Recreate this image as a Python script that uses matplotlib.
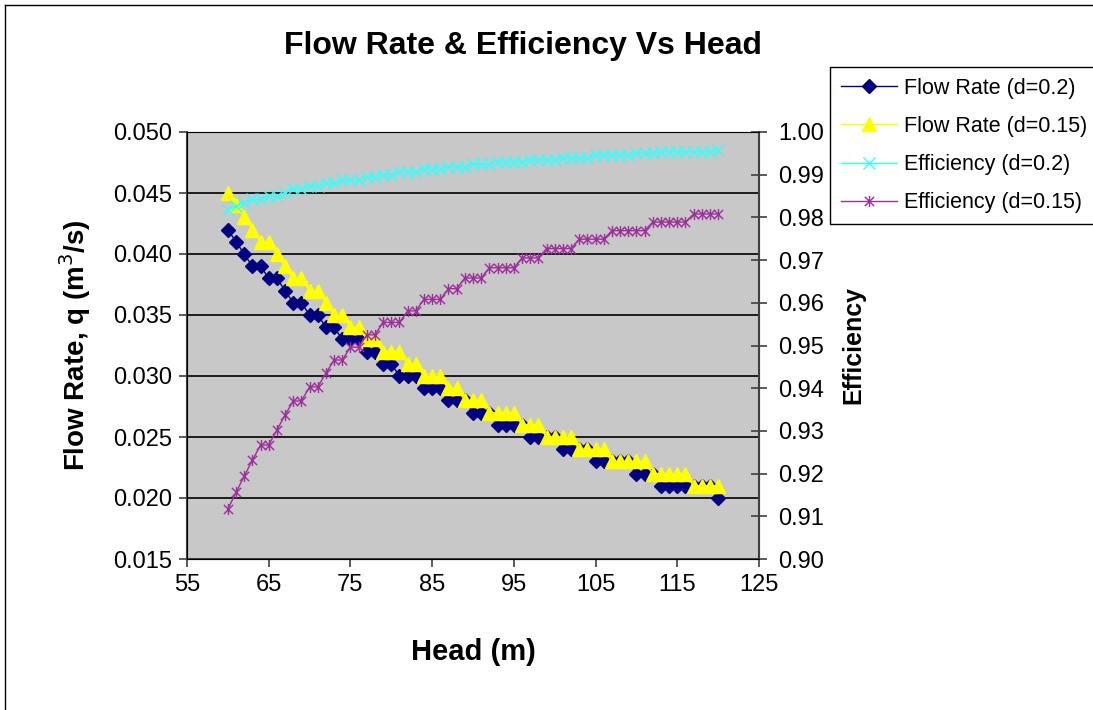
import matplotlib.pyplot as plt
from matplotlib.path import Path
from matplotlib.lines import Line2D

plt.rcParams['font.family'] = ['Liberation Sans', 'DejaVu Sans']

head = list(range(60, 121))

# flow rate (m3/s)
flow_d20 = [0.042, 0.041, 0.040, 0.039, 0.039, 0.038, 0.038, 0.037, 0.036, 0.036,
            0.035, 0.035, 0.034, 0.034, 0.033, 0.033, 0.033, 0.032, 0.032, 0.031,
            0.031, 0.030, 0.030, 0.030, 0.029, 0.029, 0.029, 0.028, 0.028, 0.028,
            0.027, 0.027, 0.027, 0.026, 0.026, 0.026, 0.026, 0.025, 0.025, 0.025,
            0.025, 0.024, 0.024, 0.024, 0.024, 0.023, 0.023, 0.023, 0.023, 0.023,
            0.022, 0.022, 0.022, 0.021, 0.021, 0.021, 0.021, 0.021, 0.021, 0.021,
            0.020]
flow_d15 = [0.045, 0.044, 0.043, 0.042, 0.041, 0.041, 0.040, 0.039, 0.038, 0.038,
            0.037, 0.037, 0.036, 0.035, 0.035, 0.034, 0.034, 0.033, 0.033, 0.032,
            0.032, 0.032, 0.031, 0.031, 0.030, 0.030, 0.030, 0.029, 0.029, 0.028,
            0.028, 0.028, 0.027, 0.027, 0.027, 0.027, 0.026, 0.026, 0.026, 0.025,
            0.025, 0.025, 0.025, 0.024, 0.024, 0.024, 0.024, 0.023, 0.023, 0.023,
            0.023, 0.023, 0.022, 0.022, 0.022, 0.022, 0.022, 0.021, 0.021, 0.021,
            0.021]

# efficiency
eff_d20 = [0.9817, 0.9826, 0.9834, 0.9842, 0.9842, 0.9850, 0.9850, 0.9858, 0.9866, 0.9866,
           0.9873, 0.9873, 0.9880, 0.9880, 0.9887, 0.9887, 0.9887, 0.9894, 0.9894, 0.9900,
           0.9900, 0.9907, 0.9907, 0.9907, 0.9913, 0.9913, 0.9913, 0.9919, 0.9919, 0.9919,
           0.9924, 0.9924, 0.9924, 0.9930, 0.9930, 0.9930, 0.9930, 0.9935, 0.9935, 0.9935,
           0.9935, 0.9940, 0.9940, 0.9940, 0.9940, 0.9945, 0.9945, 0.9945, 0.9945, 0.9945,
           0.9950, 0.9950, 0.9950, 0.9954, 0.9954, 0.9954, 0.9954, 0.9954, 0.9954, 0.9954,
           0.9959]
eff_d15 = [0.9117, 0.9156, 0.9194, 0.9231, 0.9267, 0.9267, 0.9302, 0.9337, 0.9370, 0.9370,
           0.9403, 0.9403, 0.9435, 0.9466, 0.9466, 0.9496, 0.9496, 0.9525, 0.9525, 0.9554,
           0.9554, 0.9554, 0.9581, 0.9581, 0.9608, 0.9608, 0.9608, 0.9633, 0.9633, 0.9658,
           0.9658, 0.9658, 0.9682, 0.9682, 0.9682, 0.9682, 0.9705, 0.9705, 0.9705, 0.9727,
           0.9727, 0.9727, 0.9727, 0.9749, 0.9749, 0.9749, 0.9749, 0.9769, 0.9769, 0.9769,
           0.9769, 0.9769, 0.9789, 0.9789, 0.9789, 0.9789, 0.9789, 0.9808, 0.9808, 0.9808,
           0.9808]

x_ticks = [55, 65, 75, 85, 95, 105, 115, 125]
q_ticks = [0.015, 0.020, 0.025, 0.030, 0.035, 0.040, 0.045, 0.050]
eff_ticks = [0.90, 0.91, 0.92, 0.93, 0.94, 0.95, 0.96, 0.97, 0.98, 0.99, 1.00]

# excel style star: an x with a vertical bar
star = Path([(-1, -1), (1, 1), (-1, 1), (1, -1), (0, -1.2), (0, 1.2)],
            [Path.MOVETO, Path.LINETO, Path.MOVETO, Path.LINETO, Path.MOVETO, Path.LINETO])

fig = plt.figure(figsize=(10.93, 7.10), dpi=100)
ax = fig.add_axes([187 / 1093, 1 - 559 / 710, 572 / 1093, 427 / 710])
ax.set_facecolor('#c8c8c8')

l1, = ax.plot(head, flow_d20, color='#000080', lw=1, marker='D', ms=7.5,
              mec='#000080', mfc='#000080', label='Flow Rate (d=0.2)')
l2, = ax.plot(head, flow_d15, color='#ffff00', lw=1, marker='^', ms=9.5,
              mec='#ffff00', mfc='#ffff00', label='Flow Rate (d=0.15)')

ax.set_xlim(55, 125)
ax.set_ylim(0.015, 0.050)
ax.set_xticks(x_ticks)
ax.set_yticks(q_ticks)
ax.set_yticklabels([f'{v:.3f}' for v in q_ticks])
ax.yaxis.grid(True, color='black', lw=1.2)
ax.set_axisbelow(True)
ax.tick_params(labelsize=17, direction='out', length=6, width=1.2, color='#404040', pad=5)
for side in ['top', 'right']:
    ax.spines[side].set_color('#808080')
for side in ['left', 'bottom']:
    ax.spines[side].set_color('#404040')
    ax.spines[side].set_linewidth(1.5)

ax.set_xlabel('Head (m)', fontsize=21, fontweight='bold', labelpad=30)
ax.set_ylabel('Flow Rate, q (m$^3$/s)', fontsize=20, fontweight='bold', labelpad=14)

ax2 = ax.twinx()
l3, = ax2.plot(head, eff_d20, color='#33ffff', lw=1, marker='x', ms=8.5, mew=1,
               label='Efficiency (d=0.2)')
l4, = ax2.plot(head, eff_d15, color='#9c2f9c', lw=1, marker=star, ms=8, mew=1,
               mfc='none', label='Efficiency (d=0.15)')
ax2.set_ylim(0.90, 1.00)
ax2.set_yticks(eff_ticks)
ax2.set_yticklabels([f'{v:.2f}' for v in eff_ticks])
ax2.tick_params(labelsize=17, direction='inout', length=12, width=1.2, color='#404040', pad=8)
ax2.spines['right'].set_color('#404040')
ax2.spines['right'].set_linewidth(1.5)
ax2.set_ylabel('Efficiency', fontsize=18, fontweight='bold', labelpad=12)

fig.text(523 / 1093, 1 - 46 / 710, 'Flow Rate & Efficiency Vs Head', fontsize=23,
         fontweight='bold', ha='center', va='center')

leg = fig.legend(handles=[l1, l2, l3, l4], loc='upper left',
                 bbox_to_anchor=(830 / 1093, 1 - 67 / 710), fontsize=15.5,
                 frameon=True, fancybox=False, edgecolor='black', framealpha=1,
                 borderaxespad=0, handlelength=2.6, handletextpad=0.35,
                 labelspacing=0.8, borderpad=0.5)
leg.get_frame().set_linewidth(1)

# chart area border
fig.add_artist(Line2D([5 / 1093, 5 / 1093], [0, 1 - 5 / 710], color='black', lw=1))
fig.add_artist(Line2D([5 / 1093, 1], [1 - 5 / 710, 1 - 5 / 710], color='black', lw=1))

plt.savefig('out.png', dpi=100)
